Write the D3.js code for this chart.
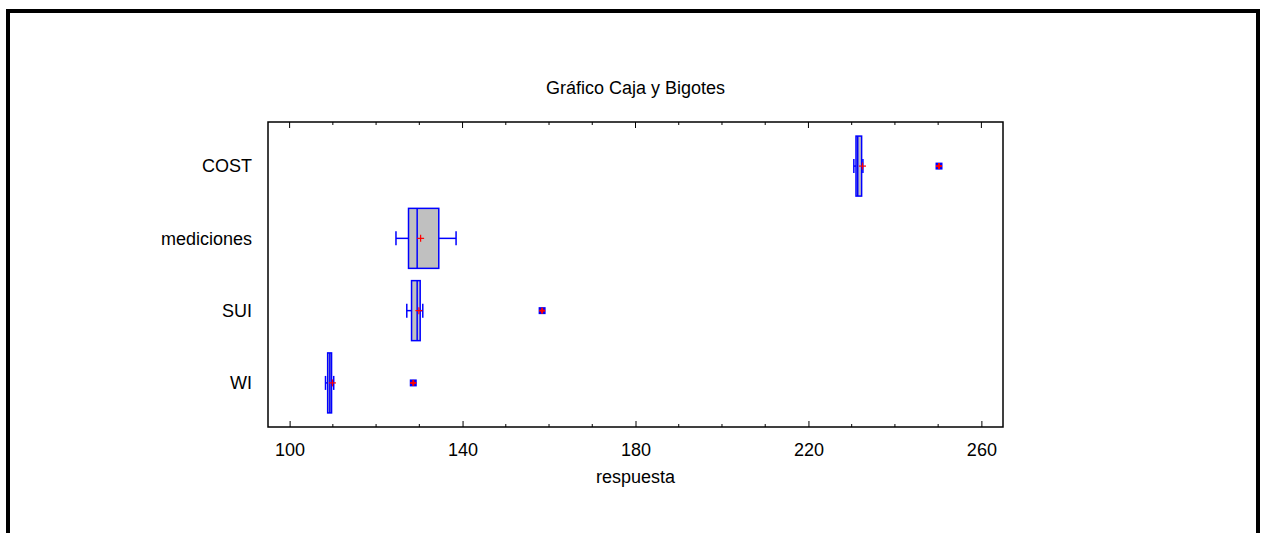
<!DOCTYPE html>
<html>
<head>
<meta charset="utf-8">
<script src="https://cdn.jsdelivr.net/npm/d3@7"></script>
<style>
  html, body { margin: 0; padding: 0; background: #fff; }
  svg text { font-family: "Liberation Sans", Arial, sans-serif; fill: #000; }
</style>
</head>
<body>
<svg id="chart" width="1261" height="533"></svg>
<script>
// Categories, top to bottom
const categories = ['COST', 'mediciones', 'SUI', 'WI'];

// Five-number summaries
const whiskerLow  = [230.5, 124.6, 127.1, 108.3];
const q1          = [231.0, 127.5, 128.2, 108.8];
const median      = [231.4, 129.5, 129.5, 109.3];
const q3          = [232.3, 134.5, 130.2, 109.7];
const whiskerHigh = [232.6, 138.5, 130.8, 110.2];
const means       = [232.5, 130.3, 129.9, 109.9];
const outliers    = [[250.2], [], [158.4], [128.6]];

const xTicks = [100, 140, 180, 220, 260];
const xMinorTicks = d3.range(100, 261, 10);

const title = 'Gráfico Caja y Bigotes';
const xLabel = 'respuesta';

const margin = { top: 122, right: 258, bottom: 106, left: 268 };
const W = 1261, H = 533;
const width = W - margin.left - margin.right;
const height = H - margin.top - margin.bottom;
const fontSize = '18px';

const svg = d3.select('#chart');

// outer frame (bottom edge runs off the picture)
svg.append('rect')
  .attr('x', 8).attr('y', 11)
  .attr('width', 1250).attr('height', 600)
  .attr('fill', 'none')
  .attr('stroke', '#000')
  .attr('stroke-width', 4);

const g = svg.append('g').attr('transform', `translate(${margin.left},${margin.top})`);

const x = d3.scaleLinear().domain([95, 265]).range([0, width]);
const y = d3.scalePoint().domain(categories).range([0, height]).padding(0.61);

const boxH = 60, capH = 14;
const minorOnly = xMinorTicks.filter(d => !xTicks.includes(d));

// axes: ticks drawn inward, bottom and top
const xAxis = d3.axisBottom(x).tickValues(xTicks).tickSize(-6).tickPadding(16).tickFormat(d3.format('d'));
const xAxisG = g.append('g').attr('transform', `translate(0,${height})`).call(xAxis);
xAxisG.selectAll('text').style('font-size', fontSize);
xAxisG.select('.domain').remove();
xAxisG.selectAll('line').attr('stroke', '#000');

g.append('g').attr('transform', `translate(0,${height})`)
  .selectAll('line').data(minorOnly).join('line')
  .attr('x1', d => x(d)).attr('x2', d => x(d))
  .attr('y1', 0).attr('y2', -3)
  .attr('stroke', '#000');

const topG = g.append('g');
topG.selectAll('line.maj').data(xTicks).join('line')
  .attr('class', 'maj')
  .attr('x1', d => x(d)).attr('x2', d => x(d))
  .attr('y1', 0).attr('y2', 6).attr('stroke', '#000');
topG.selectAll('line.min').data(minorOnly).join('line')
  .attr('class', 'min')
  .attr('x1', d => x(d)).attr('x2', d => x(d))
  .attr('y1', 0).attr('y2', 3).attr('stroke', '#000');

// plot frame
g.append('rect')
  .attr('x', 0).attr('y', 0)
  .attr('width', width).attr('height', height)
  .attr('fill', 'none')
  .attr('stroke', '#000')
  .attr('stroke-width', 1.5);

// category labels
g.append('g').selectAll('text').data(categories).join('text')
  .attr('x', -16)
  .attr('y', d => y(d))
  .attr('dy', '0.35em')
  .attr('text-anchor', 'end')
  .style('font-size', fontSize)
  .text(d => d);

// boxes
const rows = categories.map((c, i) => ({
  c, lo: whiskerLow[i], q1: q1[i], med: median[i], q3: q3[i], hi: whiskerHigh[i], mean: means[i], out: outliers[i]
}));

const box = g.append('g').selectAll('g').data(rows).join('g')
  .attr('transform', d => `translate(0,${y(d.c)})`);

const blue = '#0000ff';

box.append('line')
  .attr('x1', d => x(d.lo)).attr('x2', d => x(d.q1))
  .attr('stroke', blue).attr('stroke-width', 1.5);
box.append('line')
  .attr('x1', d => x(d.q3)).attr('x2', d => x(d.hi))
  .attr('stroke', blue).attr('stroke-width', 1.5);
box.append('line')
  .attr('x1', d => x(d.lo)).attr('x2', d => x(d.lo))
  .attr('y1', -capH / 2).attr('y2', capH / 2)
  .attr('stroke', blue).attr('stroke-width', 1.5);
box.append('line')
  .attr('x1', d => x(d.hi)).attr('x2', d => x(d.hi))
  .attr('y1', -capH / 2).attr('y2', capH / 2)
  .attr('stroke', blue).attr('stroke-width', 1.5);

box.append('rect')
  .attr('x', d => x(d.q1))
  .attr('y', -boxH / 2)
  .attr('width', d => x(d.q3) - x(d.q1))
  .attr('height', boxH)
  .attr('fill', '#c0c0c0')
  .attr('stroke', blue)
  .attr('stroke-width', 1.5);

box.append('line')
  .attr('x1', d => x(d.med)).attr('x2', d => x(d.med))
  .attr('y1', -boxH / 2).attr('y2', boxH / 2)
  .attr('stroke', blue).attr('stroke-width', 1.5);

// mean marker: red plus
const plus = (sel, cx, s) => {
  sel.append('line').attr('x1', d => cx(d) - s).attr('x2', d => cx(d) + s)
    .attr('stroke', 'red').attr('stroke-width', 1.2);
  sel.append('line').attr('x1', cx).attr('x2', cx).attr('y1', -s).attr('y2', s)
    .attr('stroke', 'red').attr('stroke-width', 1.2);
};
plus(box, d => x(d.mean), 3.5);

// outliers: blue square with red plus
const outG = box.selectAll('g.out').data(d => d.out).join('g').attr('class', 'out')
  .attr('transform', d => `translate(${x(d)},0)`);
outG.append('rect')
  .attr('x', -3.5).attr('y', -3.5).attr('width', 7).attr('height', 7)
  .attr('fill', blue);
outG.append('line').attr('x1', -3).attr('x2', 3).attr('stroke', 'red').attr('stroke-width', 2);
outG.append('line').attr('y1', -3).attr('y2', 3).attr('stroke', 'red').attr('stroke-width', 2);

// title and axis label
svg.append('text')
  .attr('x', margin.left + width / 2).attr('y', 94)
  .attr('text-anchor', 'middle')
  .style('font-size', fontSize)
  .text(title);

svg.append('text')
  .attr('x', margin.left + width / 2).attr('y', 483)
  .attr('text-anchor', 'middle')
  .style('font-size', fontSize)
  .text(xLabel);
</script>
</body>
</html>
